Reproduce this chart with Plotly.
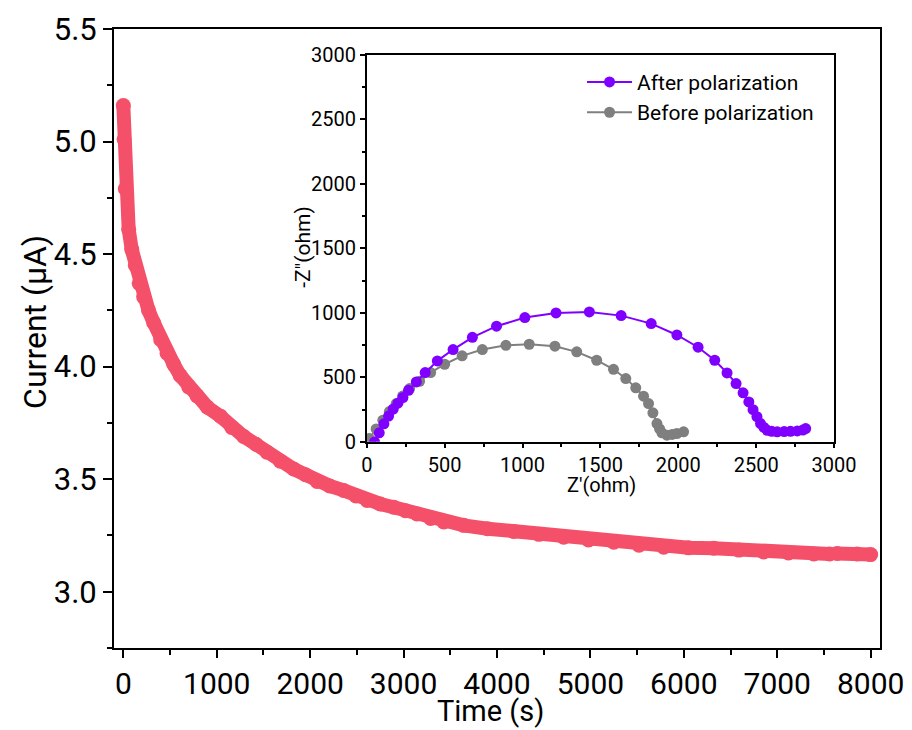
import plotly.graph_objects as go

# Main chart: chronoamperometry
time_s = [0, 8, 21, 57, 90, 128, 170, 217, 270, 325, 400, 468, 540, 610, 700, 789, 900,
          1039, 1160, 1288, 1420, 1538, 1680, 1824, 1950, 2074, 2210, 2359, 2490, 2609,
          2750, 2894, 3020, 3144, 3290, 3430, 3644, 3900, 4179, 4450, 4714, 4980, 5250,
          5520, 5785, 6050, 6320, 6590, 6855, 7120, 7391, 7560, None, 7640, 7855, 8000]
current_uA = [5.16, 5.01, 4.79, 4.61, 4.52, 4.45, 4.37, 4.31, 4.25, 4.195, 4.12, 4.06, 4.01,
              3.96, 3.91, 3.87, 3.82, 3.78, 3.73, 3.69, 3.655, 3.62, 3.58, 3.545, 3.52, 3.49,
              3.47, 3.45, 3.425, 3.405, 3.39, 3.375, 3.36, 3.345, 3.325, 3.31, 3.295, 3.28,
              3.268, 3.255, 3.242, 3.23, 3.22, 3.207, 3.198, 3.195, 3.193, 3.185, 3.177, 3.172,
              3.168, 3.168, None, 3.17, 3.168, 3.165]

# Inset: Nyquist plots
after_zr = [50, 80, 110, 140, 170, 200, 232, 268, 318, 375, 453, 554, 678, 833, 1015, 1215,
            1429, 1633, 1826, 1991, 2127, 2234, 2313, 2371, 2416, 2453, 2480, 2505, 2528,
            2550, 2571, 2600, 2635, 2680, 2720, 2764, 2800, 2818]
after_zi = [0, 70, 140, 200, 255, 300, 344, 400, 465, 537, 628, 716, 811, 897, 964, 1000,
            1008, 979, 917, 829, 734, 633, 535, 452, 380, 310, 250, 195, 142, 112, 90, 82,
            78, 80, 82, 85, 92, 103]
before_zr = [17, 60, 103, 145, 189, 230, 275, 339, 410, 500, 612, 742, 893, 1043, 1208, 1348,
             1476, 1584, 1663, 1727, 1777, 1809, 1837, 1863, 1880, 1895, 1927, 1960, 1991,
             2034]
before_zi = [26, 100, 168, 235, 297, 355, 413, 470, 537, 602, 667, 716, 749, 757, 742, 698,
             633, 563, 491, 419, 354, 297, 225, 142, 100, 70, 52, 58, 65, 78]

RED = "#F5506A"
PURPLE = "#7F00FF"
GRAY = "#7F7F7F"
FONT = "Roboto"

fig = go.Figure()

fig.add_trace(go.Scatter(
    x=time_s, y=current_uA, mode="lines+markers",
    line=dict(color=RED, width=14), marker=dict(color=RED, size=15),
    connectgaps=False, showlegend=False, xaxis="x", yaxis="y"))

fig.add_trace(go.Scatter(
    x=before_zr, y=before_zi, mode="lines+markers", name="Before polarization",
    line=dict(color=GRAY, width=2), marker=dict(color=GRAY, size=11),
    legendrank=2, xaxis="x2", yaxis="y2"))

fig.add_trace(go.Scatter(
    x=after_zr, y=after_zi, mode="lines+markers", name="After polarization",
    line=dict(color=PURPLE, width=2), marker=dict(color=PURPLE, size=11),
    legendrank=1, xaxis="x2", yaxis="y2"))

axis_common = dict(showline=True, linecolor="black", mirror=True, ticks="outside",
                   tickcolor="black", showgrid=False, zeroline=False, automargin=False)

# page body has an 8px margin, so the figure is 8px smaller and margins shifted
fig.update_layout(
    width=904, height=722,
    margin=dict(l=106, r=32, t=21, b=82),
    paper_bgcolor="white", plot_bgcolor="white",
    font=dict(family=FONT, color="black"),
    xaxis=dict(**axis_common, range=[-100, 8100], tick0=0, dtick=1000,
               linewidth=2, tickwidth=2, ticklen=8,
               minor=dict(ticks="outside", dtick=500, ticklen=5, tickcolor="black", tickwidth=2),
               tickfont=dict(size=30)),
    yaxis=dict(**axis_common, range=[2.75, 5.5], tick0=3.0, dtick=0.5, tickformat=".1f",
               linewidth=2, tickwidth=2, ticklen=9,
               minor=dict(ticks="outside", dtick=0.25, ticklen=5, tickcolor="black", tickwidth=2),
               tickfont=dict(size=31)),
    xaxis2=dict(**axis_common, domain=[0.330, 0.940], anchor="y2", range=[0, 3000],
                tick0=0, dtick=500, linewidth=1.5, tickwidth=1.5, ticklen=4,
                minor=dict(ticks="outside", dtick=250, ticklen=3, tickcolor="black", tickwidth=1.5),
                tickfont=dict(size=20)),
    yaxis2=dict(**axis_common, domain=[0.333, 0.958], anchor="x2", range=[0, 3000],
                tick0=0, dtick=500, linewidth=1.5, tickwidth=1.5, ticklen=5,
                minor=dict(ticks="outside", dtick=250, ticklen=3, tickcolor="black", tickwidth=1.5),
                tickfont=dict(size=20)),
    legend=dict(x=0.611, y=0.947, xanchor="left", yanchor="top",
                bgcolor="rgba(0,0,0,0)", font=dict(size=21), tracegroupgap=0,
                itemwidth=45),
    annotations=[
        dict(text="Time (s)", xref="paper", yref="paper", x=0.491, y=-0.1018,
             xanchor="center", yanchor="middle", showarrow=False, font=dict(size=29)),
        dict(text="Current (μA)", xref="paper", yref="paper", x=-0.103, y=0.527,
             xanchor="center", yanchor="middle", showarrow=False, textangle=-90,
             font=dict(size=32)),
        dict(text="Z'(ohm)", xref="paper", yref="paper", x=0.636, y=0.2633,
             xanchor="center", yanchor="middle", showarrow=False, font=dict(size=20)),
        dict(text='-Z"(ohm)', xref="paper", yref="paper", x=0.2467, y=0.648,
             xanchor="center", yanchor="middle", showarrow=False, textangle=-90,
             font=dict(size=21)),
    ],
)

fig.write_html("out.html")
